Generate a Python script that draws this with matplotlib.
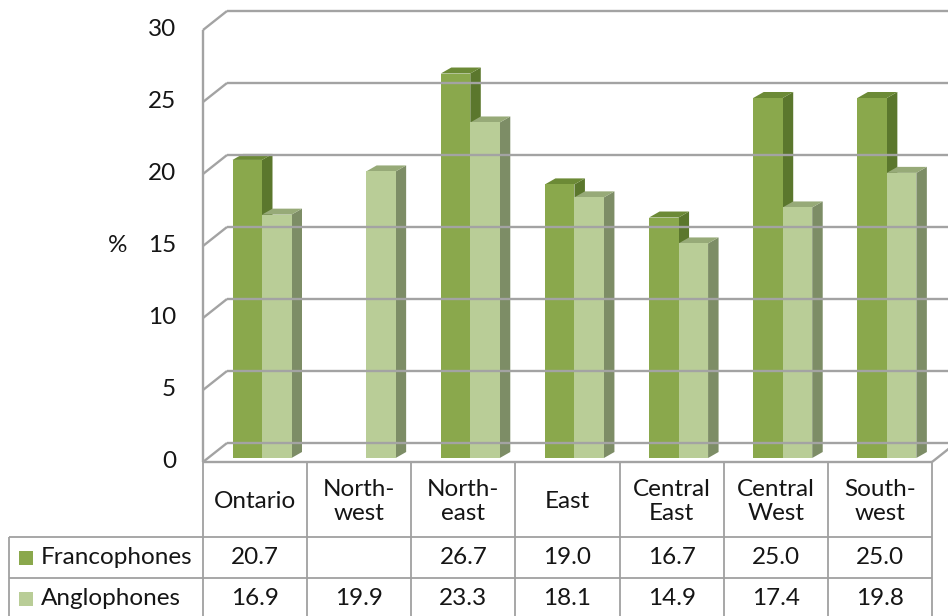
import numpy as np
import matplotlib
matplotlib.use("Agg")
import matplotlib.pyplot as plt
from matplotlib.patches import Polygon, Rectangle
from matplotlib.transforms import offset_copy

regions = ["Ontario", "North-\nwest", "North-\neast", "East", "Central\nEast", "Central\nWest", "South-\nwest"]
franco = [20.7, np.nan, 26.7, 19.0, 16.7, 25.0, 25.0]
anglo = [16.9, 19.9, 23.3, 18.1, 14.9, 17.4, 19.8]
series = ["Francophones", "Anglophones"]
yticks = [0, 5, 10, 15, 20, 25, 30]

W, H = 948, 616
FONT = "Lato"
FS = 17.5
TXT = "#151515"
GRID = "#a3a3a3"
TABLE = "#a0a0a0"
# front, top, side colours for each series
cols = [("#8aa84c", "#6c8a36", "#5b772d"),
        ("#b9cd97", "#97aa78", "#7d8d66")]

# front plane of the plot, in pixels
x0, x1 = 203, 932
yb, yt = 462, 30
ppc = (x1 - x0) / len(regions)   # pixels per category
ppv = (yb - yt) / 30.0           # pixels per percent

fig = plt.figure(figsize=(W / 100, H / 100), dpi=100)
ax = fig.add_axes([x0 / W, 1 - yb / H, (x1 - x0) / W, (yb - yt) / H])
ax.set_xlim(0, len(regions))
ax.set_ylim(0, 30)
ax.axis("off")

# wall depth and bar depth in data units
wx, wy = 24 / ppc, 19 / ppv
bdx, bdy = 10.5 / ppc, 6 / ppv
base = 4 / ppv
bw = 29.5 / ppc
boff = 29.5 / ppc

n = len(regions)
lk = dict(color=GRID, lw=1.7, clip_on=False, solid_capstyle="butt")
for v in yticks:
    ax.plot([0, wx], [v, v + wy], **lk)
    ax.plot([wx, n + wx + 1], [v + wy, v + wy], **lk)
ax.plot([0, 0], [0, 30], **lk)
ax.plot([0, n], [0, 0], **lk)
ax.plot([n, n + wx], [0, wy], **lk)

def bar3d(xl, val, c):
    xr = xl + bw
    top = base + val
    front = Rectangle((xl, base), bw, val, fc=c[0], ec="none", clip_on=False)
    topf = Polygon([(xl, top), (xl + bdx, top + bdy), (xr + bdx, top + bdy), (xr, top)],
                   fc=c[1], ec="none", clip_on=False)
    side = Polygon([(xr, base), (xr + bdx, base + bdy), (xr + bdx, top + bdy), (xr, top)],
                   fc=c[2], ec="none", clip_on=False)
    for p in (side, topf, front):
        ax.add_patch(p)

for i in range(n):
    for k, vals in enumerate([franco, anglo]):
        if not np.isnan(vals[i]):
            bar3d(i + boff + k * bw, vals[i], cols[k])

# y tick labels and unit
tr = offset_copy(ax.transData, fig=fig, x=-27, y=0, units="dots")
for v in yticks:
    ax.text(0, v, str(v), transform=tr, ha="right", va="center",
            fontsize=FS, family=FONT, color=TXT)
fig.text(118 / W, 1 - 246 / H, "%", ha="center", va="center",
         fontsize=FS, family=FONT, color=TXT)

# data table underneath, in figure pixels
lay = fig.add_axes([0, 0, 1, 1], zorder=-1)
lay.set_xlim(0, W)
lay.set_ylim(H, 0)
lay.axis("off")
r0, r1, r2, r3 = yb, 537, 578, 620
tk = dict(color=TABLE, lw=1.3, solid_capstyle="butt")
for i in range(n + 1):
    xx = x0 + i * ppc
    lay.plot([xx, xx], [r0, r3], **tk)
lay.plot([9, 9], [r1, r3], **tk)
lay.plot([9, x1], [r1, r1], **tk)
lay.plot([9, x1], [r2, r2], **tk)

for i, name in enumerate(regions):
    cx = x0 + (i + 0.5) * ppc
    lay.text(cx, (r0 + r1) / 2 + 2, name, ha="center", va="center", fontsize=FS,
             family=FONT, color=TXT, linespacing=1.17)
    for vals, ry in ((franco, (r1 + r2) / 2), (anglo, (r2 + 619) / 2)):
        if not np.isnan(vals[i]):
            lay.text(cx, ry, f"{vals[i]:.1f}", ha="center", va="center",
                     fontsize=FS, family=FONT, color=TXT)

for k, (lab, ry) in enumerate(zip(series, [(r1 + r2) / 2, (r2 + 619) / 2])):
    lay.add_patch(Rectangle((19, ry - 7), 14, 14, fc=cols[k][0], ec="none"))
    lay.text(41, ry, lab, ha="left", va="center", fontsize=FS,
             family=FONT, color=TXT)

fig.savefig("out.png", dpi=100)
